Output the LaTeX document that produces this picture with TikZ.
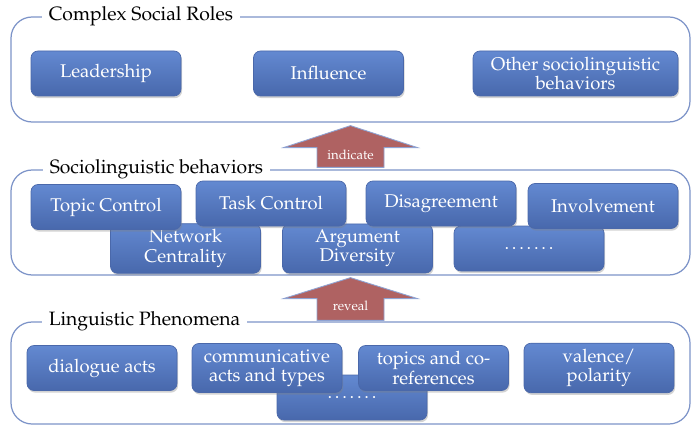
\documentclass[tikz,border=0pt]{standalone}
\usepackage[T1]{fontenc}
\usepackage{mathpazo}
\usetikzlibrary{shadows,calc}

\definecolor{panelline}{HTML}{7C93C8}
\definecolor{itemtop}{HTML}{6389D1}
\definecolor{itembot}{HTML}{4868AC}
\definecolor{itemline}{HTML}{4A68AA}
\definecolor{flowred}{HTML}{AF6262}
\definecolor{flowline}{HTML}{8FA3D3}

\begin{document}
\begin{tikzpicture}[
  panel/.style={rectangle, draw=panelline, line width=0.7pt, rounded corners=12pt,
                minimum width=13.58cm, minimum height=2.1cm},
  title/.style={fill=white, inner xsep=4pt, inner ysep=1pt, anchor=west,
                font=\fontsize{11}{13}\selectfont},
  item/.style={rectangle, draw=itemline, line width=0.4pt, rounded corners=4pt,
               top color=itemtop, bottom color=itembot, text=white, align=center,
               minimum width=3cm, minimum height=0.9cm,
               font=\fontsize{10.5}{11}\selectfont,
               drop shadow={opacity=0.35, shadow xshift=0.6pt, shadow yshift=-1.2pt}},
  flow/.style={fill=flowred, draw=flowline, line width=0.5pt, line join=miter},
  flowlabel/.style={text=white, inner sep=1pt, font=\fontsize{7.5}{9}\selectfont}
]
\useasboundingbox (0,0) rectangle (13.86,-8.52);

% three layers
\node[panel] (roles) at (7.01,-1.39) {};
\node[panel] (behav) at (7.01,-4.45) {};
\node[panel, minimum height=2.04cm] (ling) at (7.01,-7.46) {};

\node[title] (rolestitle) at ($(roles.north west)+(0.62,0)$) {Complex Social Roles};
\node[title] (behavtitle) at ($(behav.north west)+(0.64,0)$) {Sociolinguistic behaviors};
\node[title] (lingtitle)  at ($(ling.north west)+(0.62,0)$)  {Linguistic Phenomena};

% roles
\node[item] (leader)    at (2.12,-1.47)  {Leadership};
\node[item] (influence) at (6.57,-1.47)  {Influence};
\node[item, minimum width=4.1cm] (othersoc) at (11.51,-1.47)
    {Other sociolinguistic\\behaviors};

% behaviors (back row first)
\node[item] (network)   at (3.71,-4.97)  {Network\\Centrality};
\node[item] (argument)  at (7.15,-4.97)  {Argument\\Diversity};
\node[item] (behavdots) at (10.58,-4.97) {\dots\dots.};
\node[item] (topic)     at (2.12,-4.14)  {Topic Control};
\node[item] (task)      at (5.42,-4.07)  {Task Control};
\node[item] (disagree)  at (8.82,-4.07)  {Disagreement};
\node[item] (involve)   at (12.06,-4.12) {Involvement};

% phenomena
\node[item] (lingdots)  at (7.04,-7.95)  {\dots\dots.};
\node[item] (dialogue)  at (2.04,-7.36)  {dialogue acts};
\node[item] (commacts)  at (5.34,-7.36)  {communicative\\acts and types};
\node[item] (topics)    at (8.67,-7.36)  {topics and co-\\references};
\node[item] (valence)   at (11.98,-7.36) {valence/\\polarity};

% block arrows
\draw[flow] ($(roles.south)+(0,-0.06)$) -- ++(1.34,-0.44) -- ++(-0.67,0)
    -- ($(behav.north)+(0.67,0.04)$) -- ($(behav.north)+(-0.67,0.04)$)
    -- ($(roles.south)+(-0.67,-0.5)$) -- ++(-0.67,0) -- cycle;
\node[flowlabel] (indicate) at ($(roles.south)!0.5!(behav.north)+(0,-0.18)$) {indicate};

\draw[flow] ($(behav.south)+(0,-0.04)$) -- ++(1.34,-0.42) -- ++(-0.67,0)
    -- ($(ling.north)+(0.67,0.02)$) -- ($(ling.north)+(-0.67,0.02)$)
    -- ($(behav.south)+(-0.67,-0.46)$) -- ++(-0.67,0) -- cycle;
\node[flowlabel] (reveal) at ($(behav.south)!0.5!(ling.north)+(0,-0.15)$) {reveal};

\end{tikzpicture}
\end{document}
